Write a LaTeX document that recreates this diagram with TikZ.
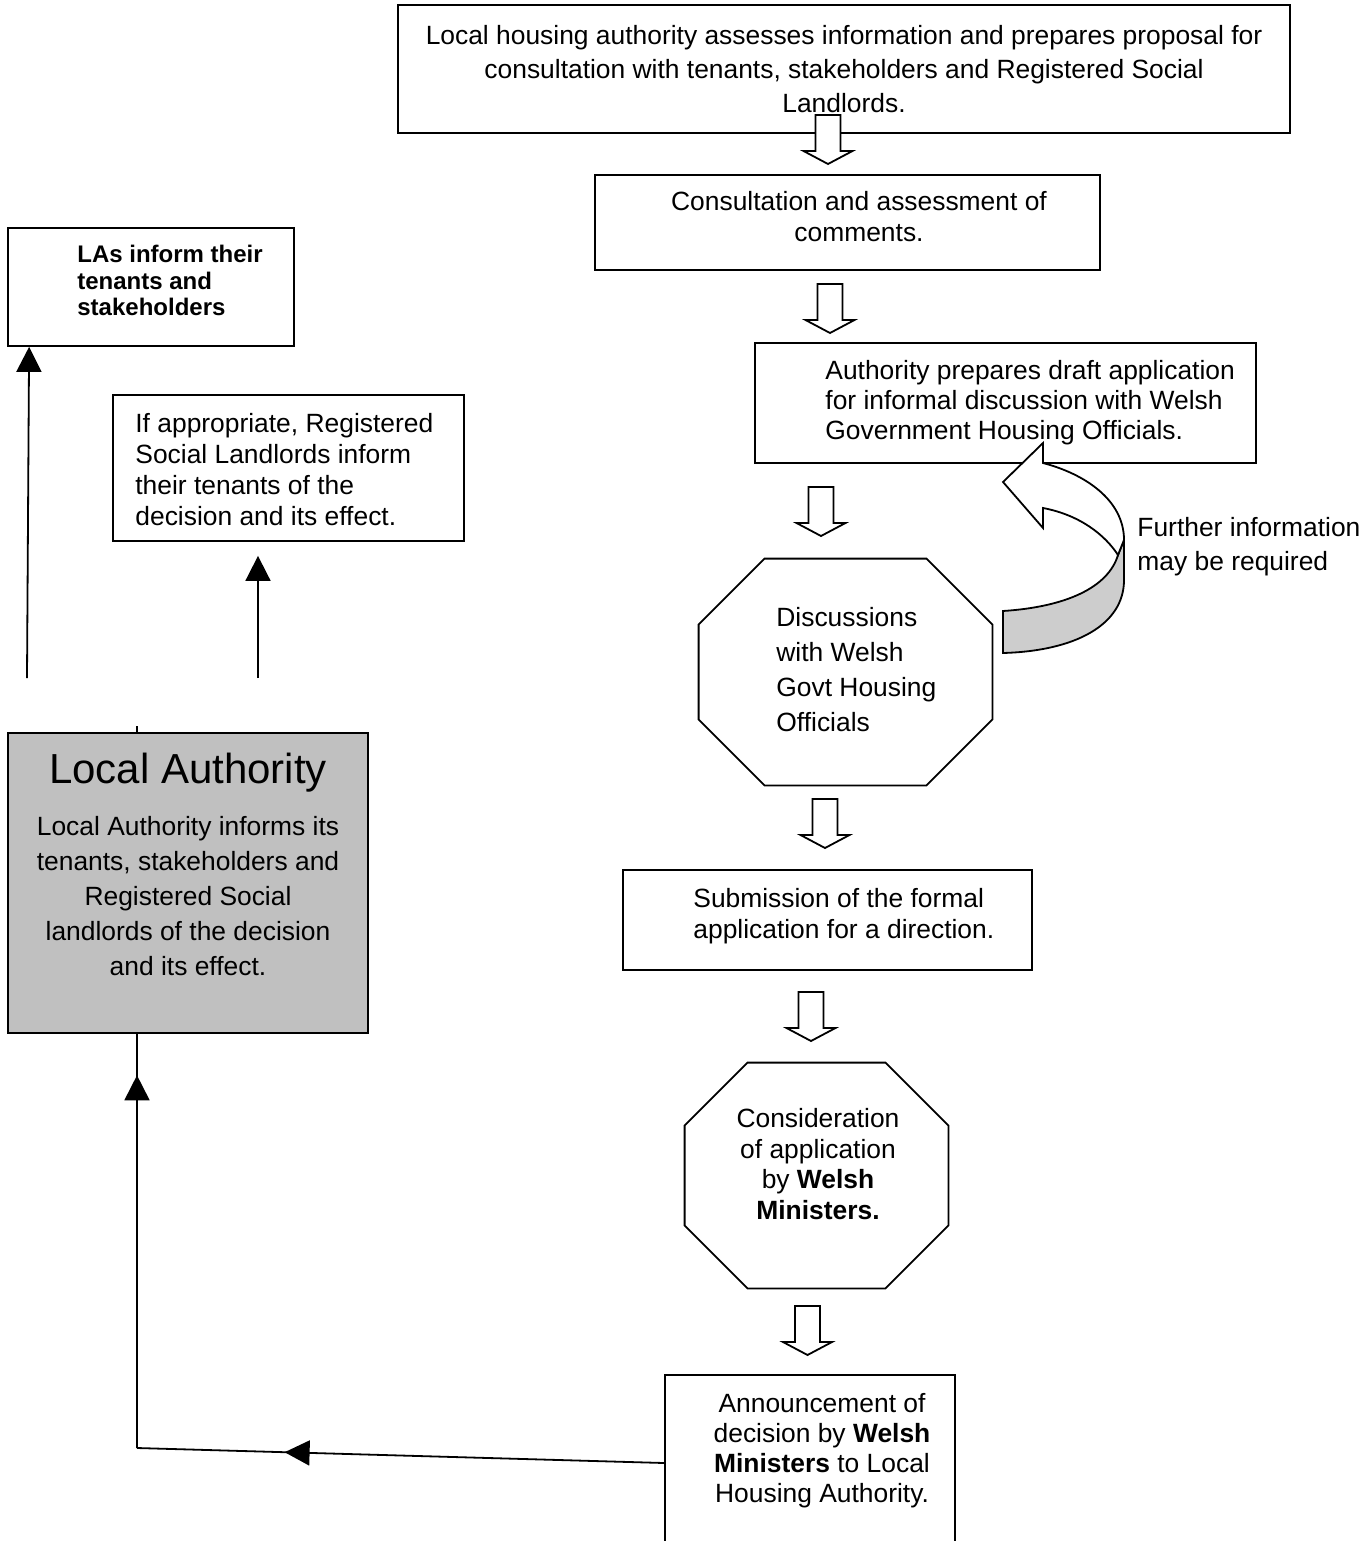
\documentclass[tikz,border=0pt]{standalone}
\usepackage{fontspec}
\setmainfont{Liberation Sans}
\usepackage{tikz}
\usetikzlibrary{arrows.meta, decorations.markings}

\definecolor{lagray}{HTML}{C0C0C0}
\definecolor{bandgray}{HTML}{CDCDCD}

\newcommand{\txtsize}[1]{\fontsize{13.2}{#1}\selectfont}

\tikzstyle{frame} = [rectangle, draw=black, line width=0.9pt, fill=white, inner sep=0pt]
\tikzstyle{ghost} = [rectangle, inner sep=0pt]
\tikzstyle{txt} = [inner sep=0pt, align=left, font=\txtsize{15.5}]
\tikzstyle{line} = [line width=0.9pt]
\tikzstyle{arrow} = [line width=0.9pt, -{Triangle[length=12.5pt, width=12.5pt]}]
\tikzstyle{hollow} = [line width=0.9pt, fill=white, draw=black]
\tikzset{midarrow/.style={postaction={decorate}, decoration={markings,
  mark=at position #1 with {\arrow{Triangle[length=12.5pt, width=12.5pt]}}}}}

% hollow down arrow, #1 = top of the shaft
\newcommand{\blockdown}[1]{\draw[hollow] (#1) ++(-12.5,0) -- ++(25,0) -- ++(0,36)
  -- ++(12,0) -- ++(-24.5,13) -- ++(-24.5,-13) -- ++(12,0) -- cycle;}

% octagon round a ghost node, #2 = corner cut
\newcommand{\octagon}[2]{\draw[line] ([xshift=#2]#1.north west) -- ([xshift=-#2]#1.north east)
  -- ([yshift=-#2]#1.north east) -- ([yshift=#2]#1.south east) -- ([xshift=-#2]#1.south east)
  -- ([xshift=#2]#1.south west) -- ([yshift=#2]#1.south west) -- ([yshift=-#2]#1.north west) -- cycle;}

\begin{document}
\begin{tikzpicture}[x=0.5pt, y=-0.5pt]

  \path[use as bounding box] (0,0) rectangle (1368,1541);
  \clip (0,0) rectangle (1368,1541);

  % right hand column
  \node (assess) [frame, minimum width=446pt, minimum height=64pt, align=center, font=\txtsize{17.2}] at (844,69)
    {Local housing authority assesses information and prepares proposal for\\ consultation with tenants, stakeholders and Registered Social\\ Landlords.};

  \node (consult) [frame, minimum width=252.5pt, minimum height=47.5pt] at (847.5,222.5) {};
  \node (consulttxt) [txt, align=center, anchor=north] at (859,191) {Consultation and assessment of\\ comments.};

  \node (draft) [frame, minimum width=250.5pt, minimum height=60pt] at (1005.5,403) {};
  \node (drafttxt) [txt, anchor=north west, font=\txtsize{15}] at (825,360)
    {Authority prepares draft application\\ for informal discussion with Welsh\\ Government Housing Officials.};

  \node (disc) [ghost, minimum width=146.5pt, minimum height=113pt] at (845.5,672) {};
  \octagon{disc}{33pt}
  \node (disctxt) [txt, anchor=north west, font=\txtsize{17.5}] at (776,607) {Discussions\\ with Welsh\\ Govt Housing\\ Officials};

  % loop back arrow
  \draw[hollow, fill=bandgray] (1003,611) .. controls (1065,607) and (1108,588) .. (1118,555) -- (1124,540)
    -- (1124,580) .. controls (1124,625) and (1075,651) .. (1003,653) -- cycle;
  \draw[hollow] (1003,482) -- (1043,443) -- (1043,463) .. controls (1085,474) and (1124,500) .. (1124,540)
    -- (1118,555) .. controls (1105,535) and (1080,515) .. (1043,508) -- (1043,528) -- cycle;
  \node (further) [txt, anchor=north west, font=\txtsize{17}] at (1137,517) {Further information\\ may be required};

  \node (submit) [frame, minimum width=204.5pt, minimum height=50pt] at (827.5,920) {};
  \node (submittxt) [txt, anchor=north west] at (693,888) {Submission of the formal\\ application for a direction.};

  \node (consider) [ghost, minimum width=131.5pt, minimum height=112.5pt] at (816.5,1175.5) {};
  \octagon{consider}{31.5pt}
  \node (considertxt) [txt, align=center, anchor=north, font=\txtsize{15.25}] at (818,1108)
    {Consideration\\ of application\\ by \textbf{Welsh}\\ \textbf{Ministers.}};

  \node (announce) [frame, minimum width=145pt, minimum height=97.5pt] at (810,1472.5) {};
  \node (announcetxt) [txt, align=center, anchor=north, font=\txtsize{15}] at (822,1393)
    {Announcement of\\ decision by \textbf{Welsh}\\ \textbf{Ministers} to Local\\ Housing Authority.};

  \blockdown{828,115}
  \blockdown{830,284}
  \blockdown{821,487}
  \blockdown{825,799}
  \blockdown{811,992}
  \blockdown{807.5,1306}

  % left hand column
  \node (las) [frame, minimum width=143pt, minimum height=59pt] at (151,287) {};
  \node (lastxt) [txt, anchor=north west, font={\fontsize{12}{13.3}\selectfont\bfseries}] at (77,245)
    {LAs inform their\\ tenants and\\ stakeholders};

  \node (rsl) [frame, minimum width=175.5pt, minimum height=73pt] at (288.5,468) {};
  \node (rsltxt) [txt, anchor=north west] at (135,413)
    {If appropriate, Registered\\ Social Landlords inform\\ their tenants of the\\ decision and its effect.};

  \node (la) [frame, fill=lagray, minimum width=180pt, minimum height=150pt] at (188,883) {};
  \node (latitle) [txt, anchor=base, font={\fontsize{21}{25}\selectfont}] at (188,783) {Local Authority};
  \node (latxt) [txt, align=center, anchor=north, font=\txtsize{17.5}] at (188,816)
    {Local Authority informs its\\ tenants, stakeholders and\\ Registered Social\\ landlords of the decision\\ and its effect.};

  \coordinate (lasfoot) at (27,678);
  \coordinate (rslfoot) at (258,678);
  \coordinate (elbow) at (137,1448);

  \draw [arrow] (lasfoot) -- ([xshift=11pt]las.south west);
  \draw [arrow, shorten >=7pt] (rslfoot) -- (rslfoot |- rsl.south);
  \draw [line] ([xshift=-25.5pt]la.north) -- ++(0,-6);
  \draw [line, midarrow=0.72] ([yshift=4.75pt]announce.west) -- (elbow);
  \draw [line, midarrow=0.9] (elbow) -- (elbow |- la.south);

\end{tikzpicture}
\end{document}
